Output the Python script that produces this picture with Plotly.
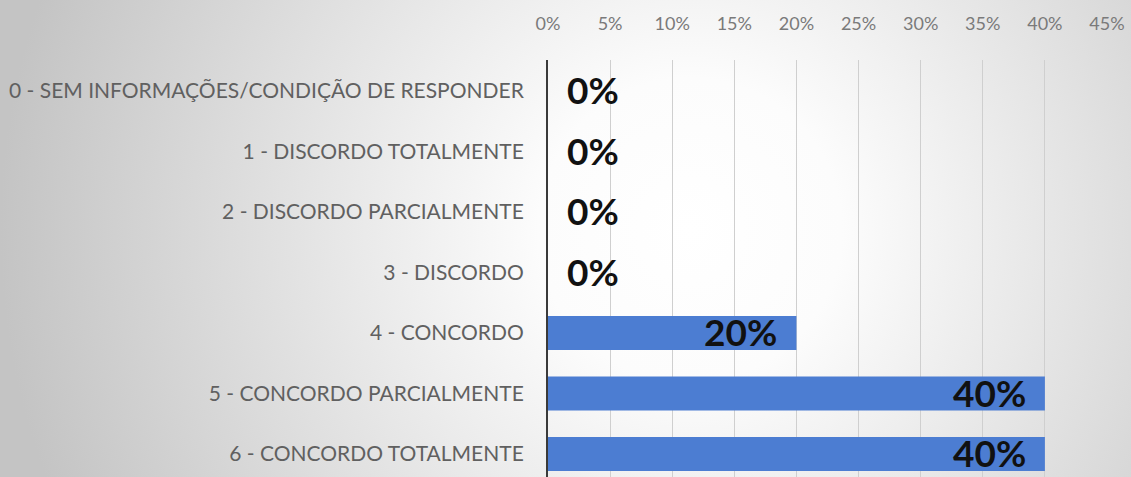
import base64
import plotly.graph_objects as go

# Survey answer categories (top to bottom) and share of responses
categories = [
    "0 - SEM INFORMAÇÕES/CONDIÇÃO DE RESPONDER",
    "1 - DISCORDO TOTALMENTE",
    "2 - DISCORDO PARCIALMENTE",
    "3 - DISCORDO",
    "4 - CONCORDO",
    "5 - CONCORDO PARCIALMENTE",
    "6 - CONCORDO TOTALMENTE",
]
shares = [0.00, 0.00, 0.00, 0.00, 0.20, 0.40, 0.40]

W, H = 1131, 477
ML, MR, MT, MB = 548, 24, 60, 0
PW, PH = W - ML - MR, H - MT - MB

BAR = "#4c7dd2"
FONT = "Lato"

fig = go.Figure(
    go.Bar(
        x=shares,
        y=categories,
        orientation="h",
        marker=dict(color=BAR, line=dict(width=0)),
        width=0.56,
        hoverinfo="skip",
    )
)

# Value labels: inside the bar end for non-zero values, just right of the axis for zeros
annotations = []
for cat, val in zip(categories, shares):
    inside = val > 0
    annotations.append(
        dict(
            x=val,
            y=cat,
            xref="x",
            yref="y",
            text=f"{val:.0%}",
            showarrow=False,
            xanchor="right" if inside else "left",
            xshift=-17 if inside else 17,
            yshift=1,
            font=dict(family=FONT, size=37, color="#111111", weight="bold"),
        )
    )

# Soft radial backdrop behind the whole figure
svg = (
    f'<svg xmlns="http://www.w3.org/2000/svg" width="{W}" height="{H}">'
    '<defs><radialGradient id="g" cx="690" cy="230" r="690" gradientUnits="userSpaceOnUse">'
    '<stop offset="0" stop-color="#ffffff"/>'
    '<stop offset="0.22" stop-color="#fcfcfc"/>'
    '<stop offset="1" stop-color="#c4c4c4"/>'
    '</radialGradient></defs>'
    f'<rect width="{W}" height="{H}" fill="url(#g)"/></svg>'
)
src = "data:image/svg+xml;base64," + base64.b64encode(svg.encode()).decode()

fig.update_layout(
    width=W,
    height=H,
    margin=dict(l=ML, r=MR, t=MT, b=MB, pad=0),
    paper_bgcolor="#ffffff",
    plot_bgcolor="rgba(0,0,0,0)",
    showlegend=False,
    annotations=annotations,
    images=[
        dict(
            source=src,
            xref="paper",
            yref="paper",
            x=-ML / PW,
            y=1 + MT / PH,
            sizex=W / PW,
            sizey=H / PH,
            xanchor="left",
            yanchor="top",
            sizing="stretch",
            layer="below",
        )
    ],
    xaxis=dict(
        side="top",
        range=[0, 0.45],
        dtick=0.05,
        tick0=0,
        tickformat=".0%",
        showgrid=True,
        gridcolor="#cfcfcf",
        gridwidth=1,
        zeroline=False,
        showline=False,
        ticks="",
        ticklabelstandoff=25,
        tickfont=dict(family=FONT, size=18, color="#7a7a7a"),
        fixedrange=True,
    ),
    yaxis=dict(
        categoryorder="array",
        categoryarray=categories,
        range=[6.381, -0.512],
        showgrid=False,
        zeroline=False,
        showline=True,
        linecolor="#3a3a3a",
        linewidth=2,
        ticks="",
        ticklabelstandoff=18,
        tickfont=dict(family=FONT, size=21, color="#606060"),
        fixedrange=True,
    ),
)

fig.write_html("out.html")
